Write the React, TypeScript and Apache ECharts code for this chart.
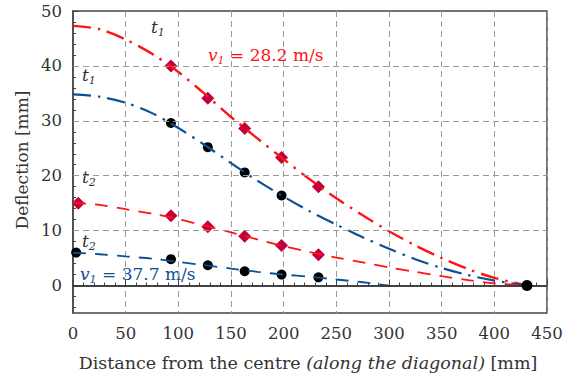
import { useEffect, useRef } from "react";
import * as echarts from "echarts";

const FONT = "DejaVu Serif";
const INK = "#333333";
const RED = "#ff1414";
const BLUE = "#0b4f94";
const CRIMSON = "#c4003c";

// Fitted deflection profiles: [distance from centre (mm), deflection (mm)]
const profileT1Slow: [number, number][] = [
  [0, 47.3], [25, 46.7], [50, 44.8], [75, 42.2], [100, 38.9], [125, 34.9],
  [150, 30.7], [175, 26.8], [200, 23.0], [225, 19.3], [250, 15.9], [275, 12.8],
  [300, 9.9], [325, 7.3], [350, 5.0], [375, 3.0], [400, 1.4], [431, 0],
];
const profileT1Fast: [number, number][] = [
  [0, 34.8], [25, 34.4], [50, 33.3], [75, 31.4], [100, 28.7], [125, 25.6],
  [150, 22.3], [175, 19.1], [200, 16.2], [225, 13.5], [250, 11.1], [275, 8.8],
  [300, 6.7], [325, 4.8], [350, 3.2], [375, 1.9], [400, 0.9], [431, 0],
];
const profileT2Slow: [number, number][] = [
  [0, 15.1], [25, 14.7], [50, 13.9], [75, 13.1], [100, 12.1], [125, 10.9],
  [150, 9.7], [175, 8.4], [200, 7.2], [225, 6.1], [250, 5.1], [275, 4.2],
  [300, 3.3], [325, 2.5], [350, 1.7], [375, 1.0], [400, 0.4], [431, 0],
];
const profileT2Fast: [number, number][] = [
  [0, 6.0], [25, 5.7], [50, 5.3], [75, 4.9], [100, 4.3], [125, 3.7],
  [150, 3.1], [175, 2.5], [200, 2.0], [225, 1.6], [250, 1.1], [275, 0.6], [300, 0],
];

// Measured deflections
const measuredT1Slow: [number, number][] = [[93, 40.0], [128, 34.1], [163, 28.6], [198, 23.3], [233, 18.0]];
const measuredT2Slow: [number, number][] = [[5, 15.0], [93, 12.7], [128, 10.7], [163, 9.0], [198, 7.3], [233, 5.6]];
const measuredT1Fast: [number, number][] = [[93, 29.6], [128, 25.2], [163, 20.6], [198, 16.4]];
const measuredT2Fast: [number, number][] = [[3, 6.0], [93, 4.8], [128, 3.7], [163, 2.6], [198, 2.0], [233, 1.5]];
const supportPoint: [number, number][] = [[431, 0]];

// Axis ticks
const yLabelValues = [0, 10, 20, 30, 40, 50];
const yMinorValues = [-4, -2, 2, 4, 6, 8, 12, 14, 16, 18, 22, 24, 26, 28, 32, 34, 36, 38, 42, 44, 46, 48];
const yGridValues = [10, 20, 30, 40];

const subRich = (size: number, color: string) => ({
  a: { fontFamily: FONT, fontSize: size, fontStyle: "italic", fill: color, color, lineHeight: size + 4 },
  s: {
    fontFamily: FONT,
    fontSize: Math.round(size * 0.62),
    fontStyle: "italic",
    fill: color,
    color,
    verticalAlign: "bottom",
    lineHeight: size + 4,
  },
  r: { fontFamily: FONT, fontSize: size, fill: color, color, lineHeight: size + 4 },
});

const timeLabel = (x: number, y: number, n: string) => ({
  type: "text",
  x,
  y,
  style: {
    text: `{a|t}{s|${n}}`,
    rich: subRich(17, INK),
    fill: INK,
    verticalAlign: "middle",
  },
});

const speedLabel = (x: number, y: number, v: string, color: string) => ({
  type: "text",
  x,
  y,
  style: {
    text: `{a|v}{s|1}{r| = ${v} m/s}`,
    rich: subRich(17, color),
    fill: color,
    verticalAlign: "middle",
  },
});

export default function App() {
  const ref = useRef<HTMLDivElement>(null);

  useEffect(() => {
    if (!ref.current) return;
    const chart = echarts.init(ref.current, null, { renderer: "svg" });

    const profile = (data: [number, number][], color: string, width: number, dash: number[]) => ({
      type: "line",
      data,
      smooth: 0.3,
      showSymbol: false,
      symbol: "none",
      lineStyle: { color, width, type: dash },
      z: 4,
    });

    const points = (data: [number, number][], symbol: string, size: number, color: string) => ({
      type: "scatter",
      data,
      symbol,
      symbolSize: size,
      itemStyle: { color, opacity: 1 },
      z: 3,
    });

    chart.setOption({
      animation: false,
      grid: {
        left: 73,
        right: 33,
        top: 11,
        bottom: 68,
        show: true,
        borderColor: "#444",
        borderWidth: 1.5,
        backgroundColor: "transparent",
      },
      xAxis: {
        type: "value",
        min: 0,
        max: 450,
        interval: 50,
        axisLine: { show: true, lineStyle: { color: "#444", width: 1.5 } },
        axisTick: { show: true, inside: true, length: 6, lineStyle: { color: "#444" } },
        minorTick: { show: true, splitNumber: 5, length: 3, lineStyle: { color: "#444" } },
        axisLabel: { fontFamily: FONT, fontSize: 16.5, color: INK, margin: 12 },
        splitLine: { show: true, lineStyle: { color: "#9a9a9a", type: [6, 4], width: 1 } },
      },
      yAxis: [
        {
          type: "value",
          min: -5,
          max: 50,
          axisLine: { show: true, lineStyle: { color: "#444", width: 1.5 } },
          axisTick: { show: true, inside: true, length: 6, customValues: yLabelValues, lineStyle: { color: "#444" } },
          axisLabel: { fontFamily: FONT, fontSize: 16.5, color: INK, margin: 11, customValues: yLabelValues },
          splitLine: { show: false },
        },
        {
          type: "value",
          min: -5,
          max: 50,
          position: "left",
          axisLine: { show: false },
          axisTick: { show: true, inside: true, length: 3, customValues: yMinorValues, lineStyle: { color: "#444" } },
          axisLabel: { show: false },
          splitLine: { show: false },
        },
      ],
      series: [
        {
          type: "line",
          data: [],
          symbol: "none",
          z: 1,
          markLine: {
            silent: true,
            symbol: "none",
            label: { show: false },
            lineStyle: { color: "#9a9a9a", type: [6, 4], width: 1 },
            data: [
              ...yGridValues.map((v) => ({ yAxis: v })),
              { yAxis: 0, lineStyle: { color: "#333", type: "solid", width: 1.5 } },
            ],
          },
        },
        points(measuredT1Slow, "diamond", 13, CRIMSON),
        points(measuredT2Slow, "diamond", 13, CRIMSON),
        points(measuredT1Fast, "circle", 10, "#000"),
        points(measuredT2Fast, "circle", 10, "#000"),
        profile(profileT1Slow, RED, 2.4, [18, 7, 2.5, 7]),
        profile(profileT1Fast, BLUE, 2.2, [18, 7, 2.5, 7]),
        profile(profileT2Slow, RED, 1.8, [13, 9]),
        profile(profileT2Fast, BLUE, 1.8, [13, 9]),
        { ...points(supportPoint, "circle", 11, "#000"), z: 5 },
      ],
      graphic: [
        timeLabel(151, 27, "1"),
        timeLabel(82, 75, "1"),
        timeLabel(82, 177, "2"),
        timeLabel(82, 241, "2"),
        speedLabel(208, 55, "28.2", RED),
        speedLabel(80, 274, "37.7", BLUE),
        {
          type: "text",
          x: 308,
          y: 363,
          style: {
            text: "{r|Distance from the centre }{i|(along the diagonal)}{r| [mm]}",
            align: "center",
            verticalAlign: "middle",
            rich: {
              r: { fontFamily: FONT, fontSize: 17.5, fill: INK },
              i: { fontFamily: FONT, fontSize: 17.5, fill: INK, fontStyle: "italic" },
            },
          },
        },
        {
          type: "text",
          x: 22,
          y: 160,
          rotation: Math.PI / 2,
          style: {
            text: "Deflection [mm]",
            fontFamily: FONT,
            fontSize: 17,
            fill: INK,
            align: "center",
            verticalAlign: "middle",
          },
        },
      ],
    });

    return () => chart.dispose();
  }, []);

  return (
    <div
      ref={ref}
      style={{ position: "fixed", left: 0, top: 0, width: 580, height: 381, background: "#fff" }}
    />
  );
}
